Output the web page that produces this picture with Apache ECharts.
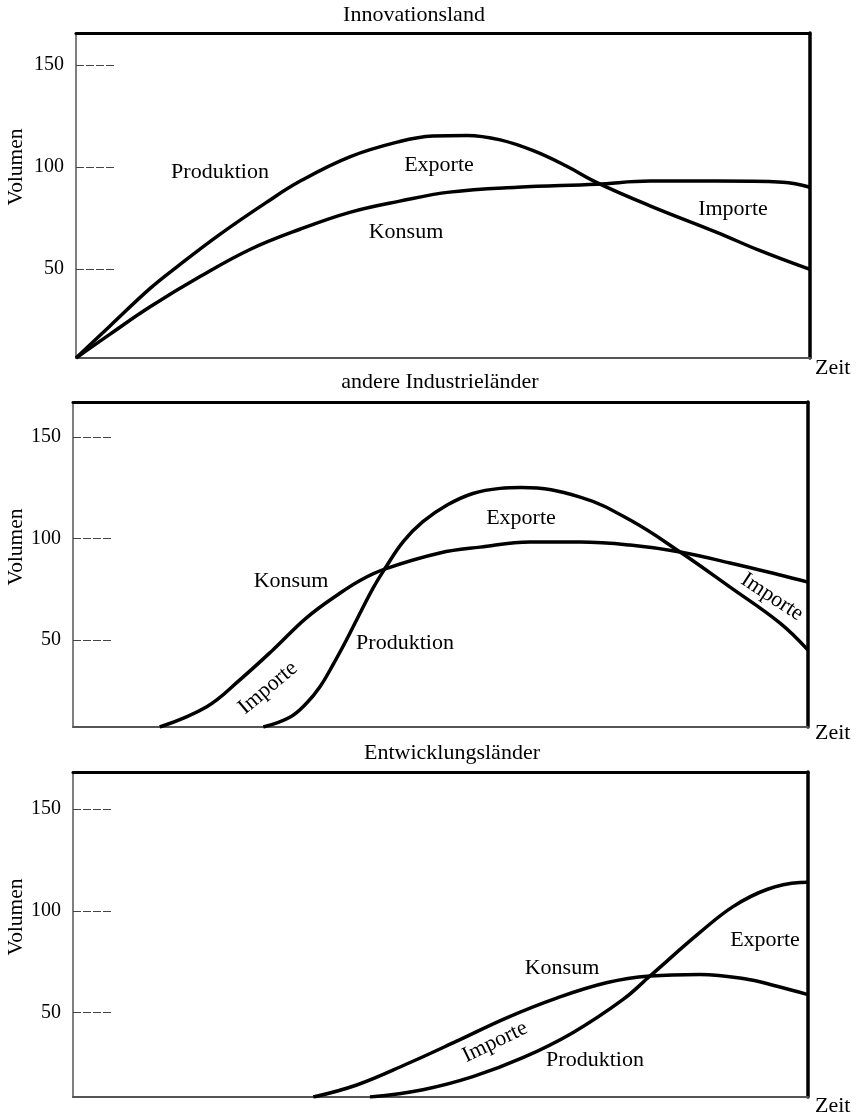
<!DOCTYPE html>
<html>
<head>
<meta charset="utf-8">
<script src="https://cdn.jsdelivr.net/npm/echarts@6/dist/echarts.min.js"></script>
<style>
html,body{margin:0;padding:0;background:#fff;}
#chart{width:857px;height:1115px;}
</style>
</head>
<body>
<div id="chart"></div>
<script>
// ---- Data ----
const panelTitles = ['Innovationsland', 'andere Industrieländer', 'Entwicklungsländer'];
const yTickValues = [50, 100, 150];
const yAxisName = 'Volumen';
const xAxisName = 'Zeit';

// Panel 1: Innovationsland
const innovProdTime = [0, 4.6, 10.1, 13.8, 19.6, 26, 30.5, 37.3, 44.1, 48.6, 53.3, 57.8, 62.3, 66.8, 70.9, 78.2, 87.3, 93.2, 100];
const innovProd     = [6.4, 22, 40.5, 51.2, 67, 82.8, 93, 105, 112.5, 115.2, 115.5, 113.3, 108, 100.5, 92.5, 81, 68, 59, 49.8];
const innovKonsTime = [0, 4.6, 10.1, 16.9, 23.7, 30.5, 37.3, 44.1, 50.9, 60.1, 70.9, 78.2, 87.3, 96.3, 100];
const innovKons     = [6.4, 18, 31.5, 46.3, 59.6, 69.5, 77.8, 83.3, 87.7, 90.1, 91.6, 93.1, 93.1, 92.6, 90.1];

// Panel 2: andere Industrieländer
const industryKonsTime = [11.8, 18.2, 22.7, 27.2, 31.8, 36.3, 39.3, 42.4, 49.9, 55.4, 62.2, 69.0, 75.8, 82.6, 89.4, 96.2, 100];
const industryKons     = [7.2, 17.2, 30.4, 45.1, 61, 73, 79.8, 84.9, 92.8, 95.7, 98.2, 98.2, 96.7, 93.3, 87.9, 82, 78.5];
const industryProdTime = [25.9, 29.5, 31.8, 33.6, 35.4, 37.2, 38.6, 40.9, 42.4, 44.9, 47.6, 50.9, 54.4, 58.1, 61, 69.0, 75.8, 82.6, 89.4, 96.2, 100];
const industryProd     = [7.2, 12, 19, 27, 38, 50, 60, 76, 84.9, 98.3, 108.2, 116.4, 122.1, 124.6, 125, 120.3, 109, 93.3, 76, 58.3, 45];

// Panel 3: Entwicklungsländer
const devKonsTime = [32.7, 38.6, 45.4, 52.2, 59.0, 65.9, 72.7, 78.5, 85.3, 91.2, 95.8, 100];
const devKons     = [8.6, 14.5, 24.8, 36, 47.5, 57.3, 64.8, 68, 68.8, 66.8, 63, 58.9];
const devProdTime = [40.4, 47.6, 54.4, 61.2, 68.0, 74.8, 78.5, 85.3, 89.8, 94.4, 98.9, 100];
const devProd     = [8.6, 12.2, 18.6, 27.9, 40.2, 56.4, 68, 89.4, 102.1, 110.5, 113.9, 114];

// Axis ranges per panel
const yMin = [6.4, 7.2, 8.6];
const yMax = [165.7, 167.1, 168.2];

// ---- Layout / style ----
const FONT = '"Liberation Serif", "DejaVu Serif", "Times New Roman", serif';
const grids = [
  {left: 76, top: 33, width: 734, height: 325},
  {left: 73, top: 402, width: 735, height: 325},
  {left: 73, top: 772, width: 735, height: 325}
];

function zip(t, v) { return t.map((x, i) => [x, v[i]]); }

const seriesDefs = [
  [0, innovProdTime, innovProd], [0, innovKonsTime, innovKons],
  [1, industryKonsTime, industryKons], [1, industryProdTime, industryProd],
  [2, devKonsTime, devKons], [2, devProdTime, devProd]
];

const xAxes = [], yAxes = [];
for (let i = 0; i < 3; i++) {
  xAxes.push({
    type: 'value', gridIndex: i, min: 0, max: 100, position: 'bottom',
    axisLine: {show: true, lineStyle: {color: '#555', width: 2}},
    axisTick: {show: false}, axisLabel: {show: false}, splitLine: {show: false}
  });
  yAxes.push({
    type: 'value', gridIndex: i, min: yMin[i], max: yMax[i], position: 'left',
    axisLine: {show: true, lineStyle: {color: '#555', width: 1.5}},
    axisTick: {show: true, inside: true, length: 38, customValues: yTickValues,
      lineStyle: {color: '#444', width: 1, type: [8, 2]}},
    axisLabel: {show: true, customValues: yTickValues, margin: 12,
      color: '#000', fontSize: 20, fontFamily: FONT},
    splitLine: {show: false}
  });
}
for (let i = 0; i < 3; i++) {
  xAxes.push({
    type: 'value', gridIndex: i, min: 0, max: 100, position: 'top',
    axisLine: {show: true, onZero: false, lineStyle: {color: '#000', width: 3}},
    axisTick: {show: false}, axisLabel: {show: false}, splitLine: {show: false}
  });
  yAxes.push({
    type: 'value', gridIndex: i, min: yMin[i], max: yMax[i], position: 'right',
    axisLine: {show: true, onZero: false, lineStyle: {color: '#000', width: 3.5}},
    axisTick: {show: false}, axisLabel: {show: false}, splitLine: {show: false}
  });
}

const series = seriesDefs.map(([p, t, v]) => ({
  type: 'line', xAxisIndex: p, yAxisIndex: p, data: zip(t, v),
  showSymbol: false, smooth: 0.4, silent: true, clip: true,
  lineStyle: {color: '#000', width: 3.5}
}));

function txt(text, x, y, opts) {
  opts = opts || {};
  return {
    type: 'text', x: x, y: y, rotation: opts.rot || 0, silent: true,
    style: {text: text, x: 0, y: 0, fill: '#000', font: (opts.size || 22) + 'px ' + FONT,
      textAlign: opts.align || 'center', textVerticalAlign: 'middle'}
  };
}

const graphics = [
  txt(panelTitles[0], 414, 15),
  txt(panelTitles[1], 440, 382),
  txt(panelTitles[2], 452, 753),
  txt(yAxisName, 16, 167, {rot: Math.PI / 2, size: 21.5}),
  txt(yAxisName, 16, 547, {rot: Math.PI / 2, size: 21.5}),
  txt(yAxisName, 16, 917, {rot: Math.PI / 2, size: 21.5}),
  txt(xAxisName, 815, 368, {align: 'left'}),
  txt(xAxisName, 815, 733, {align: 'left'}),
  txt(xAxisName, 815, 1106, {align: 'left'}),
  // Panel 1 labels
  txt('Produktion', 220, 172),
  txt('Exporte', 439, 165),
  txt('Konsum', 406, 232),
  txt('Importe', 733, 209),
  // Panel 2 labels
  txt('Konsum', 291, 581),
  txt('Produktion', 405, 643),
  txt('Importe', 268, 688, {rot: 0.7}),
  txt('Exporte', 521, 518),
  txt('Importe', 772, 597, {rot: -0.58}),
  // Panel 3 labels
  txt('Konsum', 562, 968),
  txt('Importe', 495, 1042, {rot: 0.45}),
  txt('Produktion', 595, 1060),
  txt('Exporte', 765, 940)
];

const chart = echarts.init(document.getElementById('chart'), null, {renderer: 'canvas'});
chart.setOption({
  animation: false,
  backgroundColor: '#fff',
  grid: grids,
  xAxis: xAxes,
  yAxis: yAxes,
  series: series,
  graphic: graphics
});
</script>
</body>
</html>
